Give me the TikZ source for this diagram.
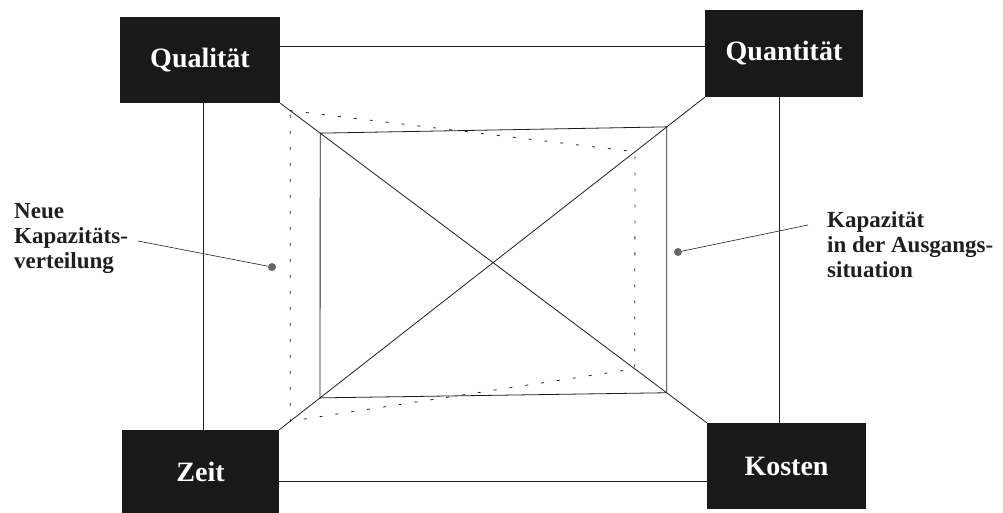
\documentclass[tikz,border=0pt]{standalone}
\usepackage{fontspec}
\setmainfont{Liberation Serif}
\usetikzlibrary{calc}
\definecolor{boxfill}{gray}{0.1}
\definecolor{ink}{gray}{0.12}
\definecolor{dotgray}{gray}{0.4}
\begin{document}
\begin{tikzpicture}[x=1pt,y=-1pt,
  box/.style={fill=boxfill, draw=none, text=white, font=\fontsize{28}{30}\selectfont\bfseries, inner sep=0pt},
  edge/.style={draw=ink, line width=0.8pt},
  dashedge/.style={draw=ink, line width=0.8pt, dash pattern=on 3pt off 13pt},
  lbl/.style={font=\fontsize{23}{25}\selectfont\bfseries, align=left, inner sep=0pt, text=ink, anchor=north west},
  dotnode/.style={circle, fill=dotgray, minimum size=8pt, inner sep=0pt}]
\useasboundingbox (0,0) rectangle (1003,513);
\fill[white] (0,0) rectangle (1003,513);
% boxes
\node[box, minimum width=160pt, minimum height=86pt] (ql) at (200,60) {Qualität};
\node[box, minimum width=158pt, minimum height=87pt] (qt) at (784,53.5) {Quantität};
\node[box, minimum width=157pt, minimum height=84pt] (ze) at (200.5,472) {Zeit};
\node[box, minimum width=159pt, minimum height=86pt] (ko) at (786.5,466) {Kosten};
% outer frame lines
\draw[edge] (ql.east |- 0,46) -- (qt.west |- 0,46);
\draw[edge] (ze.east |- 0,481) -- (ko.west |- 0,481);
\draw[edge] (ql.south -| 203,0) -- (ze.north -| 203,0);
\draw[edge] (qt.south -| 779,0) -- (ko.north -| 779,0);
% diagonals
\draw[edge] (ql.south east) -- (ko.north west);
\draw[edge] (qt.south west) -- (ze.north east);
% inner rectangle (initial capacity)
\coordinate (r1) at ($(ql.south east)!0.0937!(ko.north west)$);
\coordinate (r2) at ($(qt.south west)!0.0892!(ze.north east)$);
\coordinate (r3) at ($(ql.south east)!0.906!(ko.north west)$);
\coordinate (r4) at ($(qt.south west)!0.904!(ze.north east)$);
\draw[edge] (r1) -- (r2) -- (r3) -- (r4) -- cycle;
% dashed new distribution
\coordinate (d1) at ($(ql.south east)!0.0234!(ko.north west)$);
\coordinate (d2) at ($(qt.south west)!0.164!(ze.north east)$);
\coordinate (d3) at ($(ql.south east)!0.831!(ko.north west)$);
\coordinate (d4) at ($(qt.south west)!0.974!(ze.north east)$);
\draw[dashedge] (d1) -- (d2) -- (d3) -- (d4) -- cycle;
% labels
\node[lbl] (nk) at (14,203) {Neue\\Kapazitäts-\\verteilung};
\node[lbl] (ka) at (827,211) {Kapazität\\in der Ausgangs-\\situation};
\node[dotnode] (dl) at (272,267) {};
\node[dotnode] (dr) at (678,252) {};
\coordinate (nke) at (138,241);
\coordinate (kae) at (808,225);
\draw[edge, line width=0.6pt] (nke) -- (dl);
\draw[edge, line width=0.6pt] (dr) -- (kae);
\end{tikzpicture}
\end{document}
